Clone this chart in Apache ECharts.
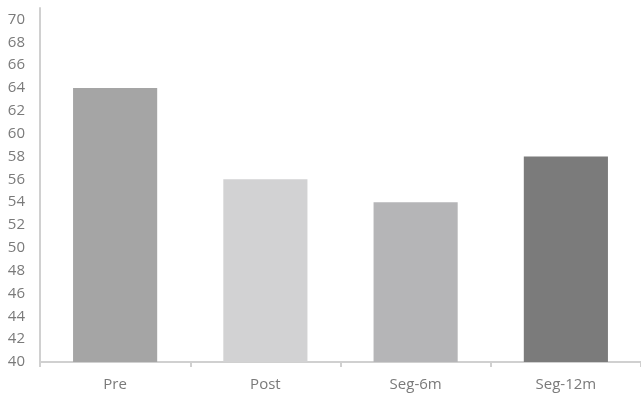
<!DOCTYPE html>
<html>
<head>
<meta charset="utf-8">
<script src="https://cdn.jsdelivr.net/npm/echarts@6/dist/echarts.min.js"></script>
<style>
  html, body { margin: 0; padding: 0; background: #fff; }
  #chart { width: 641px; height: 394px; }
</style>
</head>
<body>
<div id="chart"></div>
<script>
// Groups and measured scores
const categories = ['Pre', 'Post', 'Seg-6m', 'Seg-12m'];
const values = [64, 56, 54, 58];
const barColors = ['#a5a5a5', '#d2d2d3', '#b5b5b7', '#7b7b7b'];

// Y axis range and step
const yMin = 40;
const yMax = 71;
const yStep = 2;

const chart = echarts.init(document.getElementById('chart'), null, { renderer: 'canvas' });

chart.setOption({
  animation: false,
  backgroundColor: '#ffffff',
  grid: { left: 40, right: -3, top: 8, bottom: 32, containLabel: false },
  xAxis: {
    type: 'category',
    data: categories,
    axisLine: { lineStyle: { color: '#d0d0d0', width: 2 } },
    axisTick: { show: true, length: 5, lineStyle: { color: '#d0d0d0', width: 2 } },
    axisLabel: { color: '#7a7a7a', fontSize: 15, fontFamily: 'Open Sans', margin: 15 }
  },
  yAxis: {
    type: 'value',
    min: yMin,
    max: yMax,
    interval: yStep,
    splitLine: { show: false },
    axisLine: { show: true, lineStyle: { color: '#d0d0d0', width: 2 } },
    axisTick: { show: false },
    axisLabel: {
      color: '#7a7a7a', fontSize: 15, fontFamily: 'Open Sans', margin: 15,
      showMaxLabel: false
    }
  },
  series: [{
    type: 'bar',
    barCategoryGap: '44%',
    data: values.map((v, i) => ({ value: v, itemStyle: { color: barColors[i] } }))
  }]
});
</script>
</body>
</html>
